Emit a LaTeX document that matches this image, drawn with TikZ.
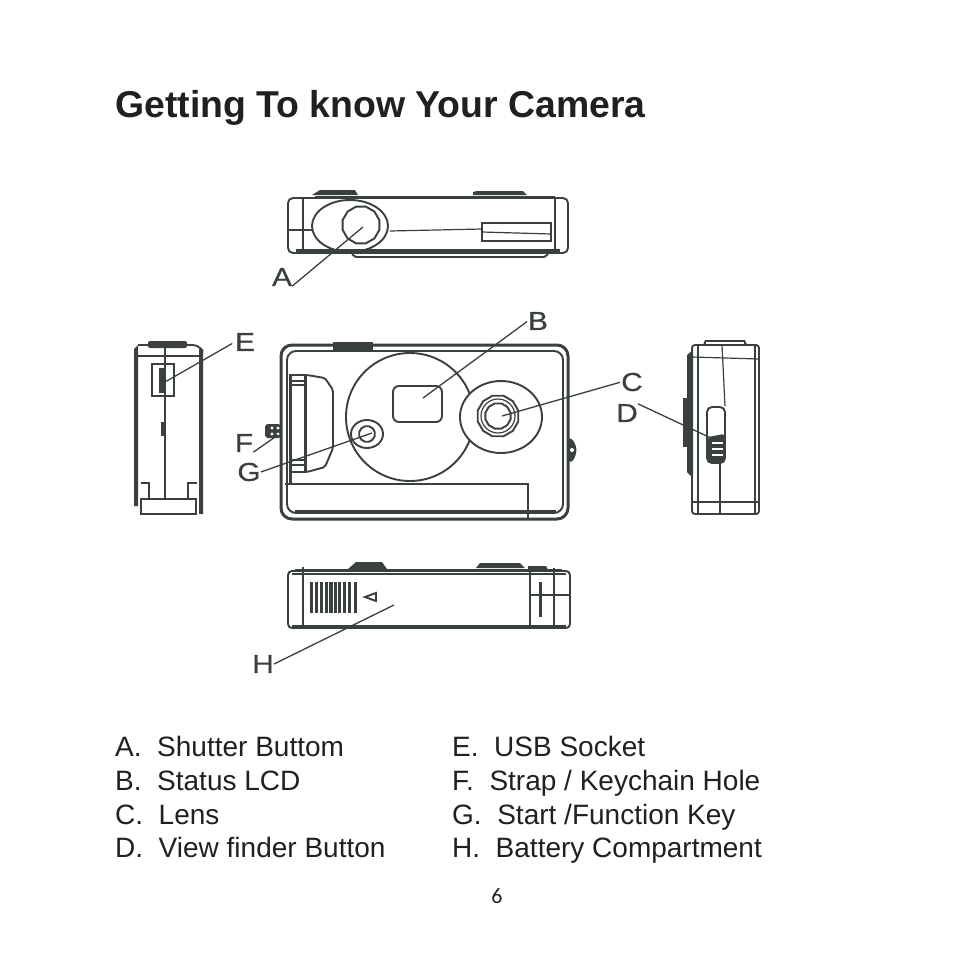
\documentclass[tikz,border=0pt]{standalone}
\usepackage{fontspec}
\setmainfont{Liberation Sans}
\newfontfamily\pagenofont{Carlito}
\newfontfamily\callfont[FakeBold=0.5]{Liberation Sans}
\usetikzlibrary{shapes.geometric}
\definecolor{ink}{HTML}{231F20}
\definecolor{dk}{HTML}{3A3F40}
\newcommand{\polyg}[4]{\draw[#4] plot[samples at={0,30,...,330}] ({#1+#3*cos(\x+15)},{#2+#3*sin(\x+15)}) -- cycle;}
\tikzset{
  thn/.style={draw=dk,line width=1.2pt},
  med/.style={draw=dk,line width=1.9pt},
  thk/.style={draw=dk,line width=3pt},
  solidpart/.style={fill=dk,draw=none},
  leader/.style={draw=dk,line width=1.3pt},
  callout/.style={text=dk,inner sep=0pt,font=\callfont\fontsize{26}{26}\selectfont},
  listtext/.style={text=ink,anchor=base west,inner sep=0pt,font=\fontsize{28}{28}\selectfont},
}
\newcommand{\wide}[1]{\scalebox{1.15}[1]{#1}}
\begin{document}
\begin{tikzpicture}[x=1pt,y=-1pt]
\useasboundingbox (0,0) rectangle (954,954);
\fill[white] (0,0) rectangle (954,954);

\node[anchor=base west,inner sep=0pt,text=ink,font=\fontsize{37.4}{37.4}\selectfont\bfseries] (title) at (115,117) {Getting To know Your Camera};

% ---- top view
\draw[solidpart] (312,195) -- (320,190) -- (355,190) -- (358,195) -- cycle;
\draw[solidpart] (473,192) -- (477,191) -- (523,191) -- (527,195) -- (473,195) -- cycle;
\draw[med,rounded corners=5pt] (288,198) rectangle (568,253);
\draw[thk] (315,197) -- (555,197);
\draw[thk] (296,250) -- (560,250);
\draw[thn] (303,198) -- (303,253);
\draw[thn] (555,198) -- (555,253);
\draw[med,rounded corners=2pt] (352,253) -- (354,257) -- (546,257) -- (548,253);
\draw[thn] (288,230) -- (313,230);
\draw[med] (350,226) ellipse [x radius=38,y radius=26];
\polyg{361}{225}{19}{med}
\draw[thn] (390,231) -- (482,229);
\draw[med] (482,223) rectangle (551,241);
\draw[thn] (482,232) -- (551,234);

% ---- front view
\draw[solidpart] (333,342) rectangle (373,350);
\draw[thk,rounded corners=11pt] (281,345) rectangle (568,519);
\draw[med,rounded corners=9pt] (287,351) rectangle (563,513);
\draw[thk] (295,511) -- (556,511);
\draw[med] (410,417) circle [radius=64];
\draw[med,fill=white] (501,417) ellipse [x radius=41,y radius=36];
\polyg{498}{416}{21}{med}
\polyg{498}{416}{13}{med}
\draw[thn] (498,416) circle [radius=17];
\draw[med,rounded corners=6pt] (393,386) rectangle (442,422);
\draw[med] (367,434) ellipse [x radius=16,y radius=14];
\polyg{367}{434}{8}{med}
% view-finder side
\draw[med,rounded corners=2pt] (289,375) -- (307,375) -- (325,378) -- (333,390) -- (333,448) -- (325,467) -- (307,472) -- (289,472);
\draw[thk] (290,375) -- (290,484);
\draw[thk] (305,375) -- (305,472);
\draw[thn] (292,381) -- (305,381);
\draw[thn] (292,385) -- (305,385);
\draw[thn] (292,460) -- (305,460);
\draw[thn] (292,465) -- (305,465);
% lower strip
\draw[med] (285,484) -- (528,484) -- (528,518);
% strap eyelet, right bump
\draw[solidpart,rounded corners=3pt] (265,424) rectangle (281,438);
\fill[white] (272,428) circle [radius=1.6] (278,428) circle [radius=1.6] (272,434) circle [radius=1.6] (278,434) circle [radius=1.6];
\draw[solidpart,rounded corners=3pt] (569,437) -- (574,441) -- (577,450) -- (574,460) -- (569,463) -- cycle;
\fill[white] (572,450) circle [radius=2];

% ---- left view
\draw[solidpart,rounded corners=2pt] (148,341) rectangle (187,348);
\draw[med,rounded corners=4pt] (138,345) -- (197,345) -- (203,351);
\draw[solidpart] (134,349) -- (138,345) -- (138,506) -- (134,506) -- cycle;
\draw[solidpart] (199,349) -- (203,351) -- (203,514) -- (199,514) -- cycle;
\draw[med] (137,356) -- (200,356);
\draw[thn] (165,345) -- (165,499);
\draw[med] (152,364) rectangle (174,396);
\draw[solidpart] (159,368) rectangle (164,393);
\draw[solidpart] (161,422) rectangle (165,436);
\draw[med] (140,499) -- (197,499);
\draw[med] (141,499) -- (141,514) -- (196,514) -- (196,499);
\draw[med] (141,483) -- (149,483) -- (149,498);
\draw[med] (188,498) -- (188,483) -- (197,483);

% ---- right view
\draw[solidpart] (703,345) -- (705,340) -- (745,340) -- (747,345) -- cycle;
\fill[white] (706,342) rectangle (744,345);
\draw[med,rounded corners=3pt] (692,345) rectangle (759,514);
\draw[solidpart] (687,355) -- (693,350) -- (693,478) -- (687,472) -- cycle;
\draw[solidpart] (683,398) rectangle (688,447);
\draw[med] (698,345) -- (698,514);
\draw[med] (755,345) -- (755,514);
\draw[thn] (692,357) -- (759,359);
\draw[med] (692,502) -- (759,502);
\draw[thn] (722,345) -- (725,406);
\draw[thn] (720,463) -- (720,514);
\draw[med,rounded corners=5pt] (707,463) -- (707,407) -- (725,407) -- (725,463) -- cycle;
\draw[solidpart,rounded corners=2pt] (708,463) -- (708,437) -- (724,434) -- (724,463) -- cycle;
\fill[white] (712,442) rectangle (723,444);
\fill[white] (712,448) rectangle (723,450);
\fill[white] (712,454) rectangle (723,456);

% ---- bottom view
\draw[solidpart] (348,569) -- (356,562) -- (382,562) -- (387,569) -- cycle;
\draw[solidpart] (476,568) -- (480,563) -- (520,563) -- (525,568) -- cycle;
\draw[solidpart] (528,566) -- (546,566) -- (548,570) -- (528,570) -- cycle;
\draw[med,rounded corners=4pt] (288,571) rectangle (570,628);
\draw[thk] (295,570) -- (562,570);
\draw[thn] (292,574) -- (566,574);
\draw[thk] (292,626) -- (566,626);
\draw[thn] (303,567) -- (303,628);
\draw[med] (530,568) -- (530,628);
\draw[med] (554,568) -- (554,628);
\draw[med] (530,595) -- (570,595);
\draw[solidpart] (538.5,582) rectangle (541.5,617);
\foreach \bx/\bw in {310/3,315/3,320/3,325/3,329/4,333.5/3.5,338/3,343/3,348/3,354/3}
  \fill[dk] (\bx,582) rectangle +(\bw,31);
\draw[med] (365,597) -- (376,593) -- (376,601) -- cycle;

% ---- callout labels
\node[callout] (la) at (282,277) {\wide{A}};
\node[callout] (lb) at (538,321) {\wide{B}};
\node[callout] (lc) at (632,382) {\wide{C}};
\node[callout] (ld) at (627,413) {\wide{D}};
\node[callout] (le) at (245,342) {\wide{E}};
\node[callout] (lf) at (244,443) {\wide{F}};
\node[callout] (lg) at (249,472) {\wide{G}};
\node[callout] (lh) at (263,664) {\wide{H}};

\coordinate (ta) at (363,227);
\coordinate (tb) at (423,398);
\coordinate (tc) at (502,416);
\coordinate (td) at (711,438);
\coordinate (te) at (165,382);
\coordinate (tf) at (278,435);
\coordinate (tg) at (372,433);
\coordinate (th) at (394,605);

\draw[leader] (la.south east) -- (ta);
\draw[leader,shorten <=1pt] (lb.west) -- (tb);
\draw[leader,shorten <=1pt] (lc.west) -- (tc);
\draw[leader] (ld.north east) -- (td);
\draw[leader,shorten <=3pt] (le.west) -- (te);
\draw[leader] (lf.south east) -- (tf);
\draw[leader] (lg.east) -- (tg);
\draw[leader] (lh.east) -- (th);

% ---- legend
\node[listtext] (a1) at (115,756) {A.\ \ Shutter Buttom};
\node[listtext] (a2) at (115,790) {B.\ \ Status LCD};
\node[listtext] (a3) at (115,824) {C.\ \ Lens};
\node[listtext] (a4) at (115,857) {D.\ \ View finder Button};
\node[listtext] (b1) at (452,756) {E.\ \ USB Socket};
\node[listtext] (b2) at (452,790) {F.\ \ Strap / Keychain Hole};
\node[listtext] (b3) at (452,824) {G.\ \ Start /Function Key};
\node[listtext] (b4) at (452,857) {H.\ \ Battery Compartment};
\node[anchor=base,inner sep=0pt,text=ink,font=\pagenofont\fontsize{22}{22}\selectfont] (pg) at (497,903) {6};
\end{tikzpicture}
\end{document}
